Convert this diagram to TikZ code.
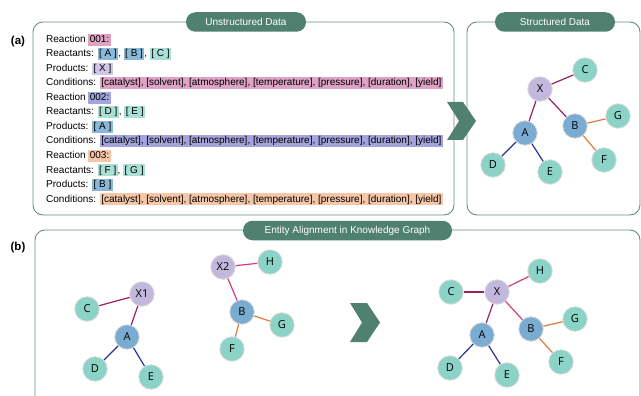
\documentclass[tikz,border=0pt]{standalone}
\usepackage{fontspec}
\setmainfont{Liberation Sans}
\newfontfamily\entfont{Open Sans}

\definecolor{pillteal}{RGB}{80,128,112}
\definecolor{boxline}{RGB}{100,142,128}
\definecolor{hlpink}{RGB}{221,162,196}
\definecolor{hlblue}{RGB}{140,184,216}
\definecolor{hlteal}{RGB}{170,223,214}
\definecolor{hllav}{RGB}{208,199,232}
\definecolor{hlpurp}{RGB}{162,164,219}
\definecolor{hlpeach}{RGB}{246,198,168}
\definecolor{entteal}{RGB}{139,211,199}
\definecolor{entblue}{RGB}{122,172,210}
\definecolor{entlav}{RGB}{194,184,222}
\definecolor{edmar}{RGB}{155,32,96}
\definecolor{edpink}{RGB}{214,58,128}
\definecolor{ednavy}{RGB}{40,48,150}
\definecolor{edorange}{RGB}{225,122,60}

\newcommand{\hl}[2]{{\setlength{\fboxsep}{1.4pt}\colorbox{#1}{\vphantom{[]}#2}}}

\begin{document}
\begin{tikzpicture}[x=1pt,y=-1pt,
  frame/.style={draw=boxline, line width=0.9pt, rounded corners=10pt},
  pill/.style={fill=pillteal, text=white, rounded corners=9.5pt, minimum height=19.5pt, inner sep=0pt, font=\fontsize{10}{11}\selectfont},
  txt/.style={anchor=base west, inner sep=0pt, font=\fontsize{10}{12}\selectfont},
  tag/.style={font=\bfseries\fontsize{11.5}{13}\selectfont},
  ent/.style={circle, minimum size=24.5pt, inner sep=0pt, draw=black!15, line width=0.8pt, font=\entfont\fontsize{11}{13}\selectfont},
  tl/.style={ent, fill=entteal},
  bl/.style={ent, fill=entblue},
  lv/.style={ent, fill=entlav},
  mar/.style={draw=edmar, line width=1.2pt},
  pnk/.style={draw=edpink, line width=1.2pt},
  nvy/.style={draw=ednavy, line width=1.2pt},
  org/.style={draw=edorange, line width=1.2pt}]
  \path[use as bounding box] (0,0) rectangle (641,396);

  % frames
  \draw[frame] (33,22) rectangle (454,215);
  \draw[frame] (467,22) rectangle (640,215);
  \draw[frame] (35,230) rectangle (640,420);

  % titles
  \node[pill, minimum width=120pt] (ttlU) at (246,22) {Unstructured Data};
  \node[pill, minimum width=120pt] (ttlS) at (555,22) {Structured Data};
  \node[pill, minimum width=209pt] (ttlE) at (347.5,230.5) {Entity Alignment in Knowledge Graph};
  \node[tag] (tagA) at (18,42) {(a)};
  \node[tag] (tagB) at (18,248) {(b)};

  % reaction records
  \node[txt] (r1) at (46,42.5) {Reaction \hl{hlpink}{001:}};
  \node[txt] (r2) at (46,57) {Reactants: \hl{hlblue}{[ A ]}, \hl{hlblue}{[ B ]}, \hl{hlteal}{[ C ]}};
  \node[txt] (r3) at (46,71.5) {Products: \hl{hllav}{[ X ]}};
  \node[txt] (r4) at (46,86) {Conditions: \hl{hlpink}{[catalyst], [solvent], [atmosphere], [temperature], [pressure], [duration], [yield]}};
  \node[txt] (r5) at (46,100.5) {Reaction \hl{hlpurp}{002:}};
  \node[txt] (r6) at (46,115) {Reactants: \hl{hlteal}{[ D ]}, \hl{hlteal}{[ E ]}};
  \node[txt] (r7) at (46,129.5) {Products: \hl{hlblue}{[ A ]}};
  \node[txt] (r8) at (46,144) {Conditions: \hl{hlpurp}{[catalyst], [solvent], [atmosphere], [temperature], [pressure], [duration], [yield]}};
  \node[txt] (r9) at (46,158.5) {Reaction \hl{hlpeach}{003:}};
  \node[txt] (r10) at (46,173) {Reactants: \hl{hlteal}{[ F ]}, \hl{hlteal}{[ G ]}};
  \node[txt] (r11) at (46,187.5) {Products: \hl{hlblue}{[ B ]}};
  \node[txt] (r12) at (46,202) {Conditions: \hl{hlpeach}{[catalyst], [solvent], [atmosphere], [temperature], [pressure], [duration], [yield]}};

  % arrows
  \fill[pillteal] (447,102) -- (463,102) -- (476,121) -- (463,140) -- (447,140) -- (459,121) -- cycle;
  \fill[pillteal] (350,303) -- (367,303) -- (380,322.5) -- (367,342) -- (350,342) -- (362,322.5) -- cycle;

  % structured graph
  \node[lv] (tX) at (540,89) {X};
  \node[tl] (tC) at (585,70) {C};
  \node[bl] (tA) at (525,133) {A};
  \node[bl] (tB) at (575,126) {B};
  \node[tl] (tG) at (618,116) {G};
  \node[tl] (tF) at (604,160) {F};
  \node[tl] (tD) at (493,165) {D};
  \node[tl] (tE) at (550,172) {E};
  \draw[mar] (tX) -- (tC);
  \draw[mar] (tX) -- (tA);
  \draw[mar] (tX) -- (tB);
  \draw[nvy] (tA) -- (tD);
  \draw[nvy] (tA) -- (tE);
  \draw[org] (tB) -- (tG);
  \draw[org] (tB) -- (tF);

  % first fragment
  \node[lv] (pX) at (142,294) {X1};
  \node[tl] (pC) at (87,309) {C};
  \node[bl] (pA) at (127,337) {A};
  \node[tl] (pD) at (95,369) {D};
  \node[tl] (pE) at (151,377) {E};
  \draw[mar] (pX) -- (pC);
  \draw[mar] (pX) -- (pA);
  \draw[nvy] (pA) -- (pD);
  \draw[nvy] (pA) -- (pE);

  % second fragment
  \node[lv] (qX) at (223,267) {X2};
  \node[tl] (qH) at (270,262) {H};
  \node[bl] (qB) at (242,312) {B};
  \node[tl] (qG) at (282,325) {G};
  \node[tl] (qF) at (232,349) {F};
  \draw[pnk] (qX) -- (qH);
  \draw[pnk] (qX) -- (qB);
  \draw[org] (qB) -- (qG);
  \draw[org] (qB) -- (qF);

  % aligned graph
  \node[lv] (mX) at (497,292) {X};
  \node[tl] (mC) at (451,292) {C};
  \node[tl] (mH) at (540,271) {H};
  \node[bl] (mA) at (482,335) {A};
  \node[bl] (mB) at (531,329) {B};
  \node[tl] (mG) at (575,319) {G};
  \node[tl] (mF) at (561,362) {F};
  \node[tl] (mD) at (450,368) {D};
  \node[tl] (mE) at (507,375) {E};
  \draw[mar] (mX) -- (mC);
  \draw[mar] (mX) -- (mA);
  \draw[pnk] (mX) -- (mH);
  \draw[pnk] (mX) -- (mB);
  \draw[nvy] (mA) -- (mD);
  \draw[nvy] (mA) -- (mE);
  \draw[org] (mB) -- (mG);
  \draw[org] (mB) -- (mF);
\end{tikzpicture}
\end{document}
